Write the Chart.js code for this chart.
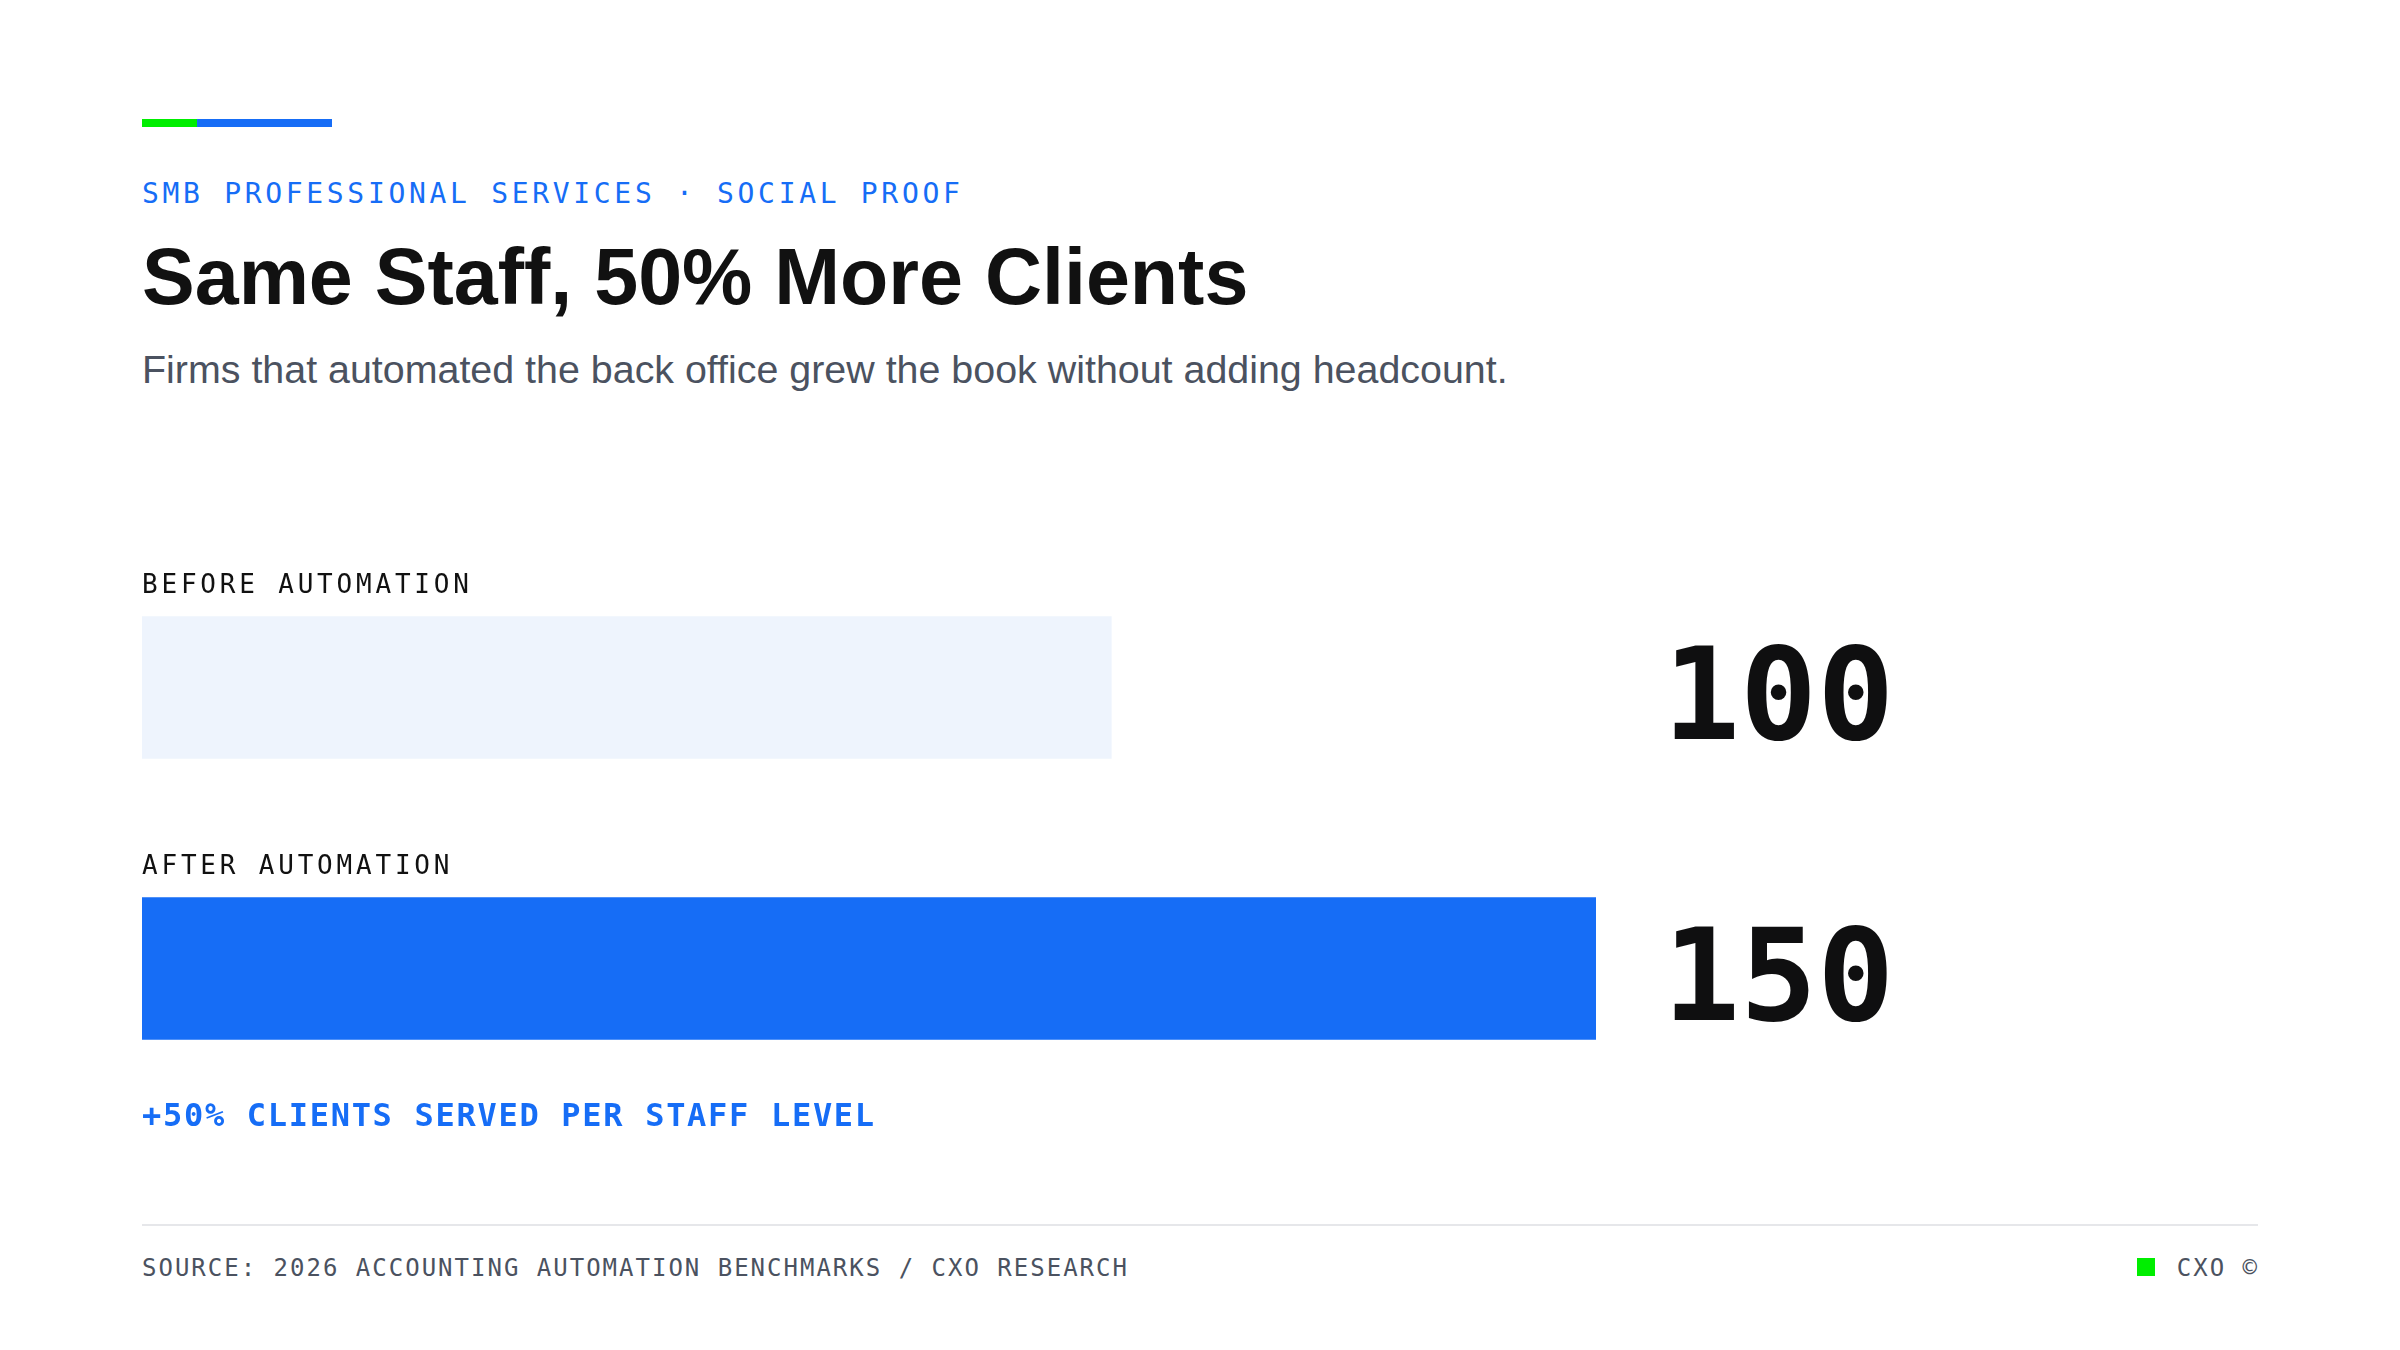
<!DOCTYPE html>
<html>
<head>
<meta charset="utf-8">
<script src="https://cdn.jsdelivr.net/npm/chart.js@4"></script>
<style>
  html, body { margin: 0; padding: 0; background: #ffffff; }
  body { width: 2400px; height: 1350px; position: relative; overflow: hidden; }
  .abs { position: absolute; white-space: nowrap; line-height: 1; }
  .mono { font-family: "DejaVu Sans Mono", monospace; }
  .sans { font-family: "Liberation Sans", Arial, sans-serif; }
  #accent-g { left: 142px; top: 119px; width: 55px; height: 8px; background: #00ee00; }
  #accent-b { left: 197px; top: 119px; width: 135px; height: 8px; background: #166DF6; }
  #eyebrow { left: 142px; top: 180px; font-size: 28px; letter-spacing: 3.68px; color: #166DF6; }
  #title { left: 142px; top: 237px; font-size: 79px; font-weight: 700; color: #111111; }
  #subtitle { left: 142px; top: 350px; font-size: 39.4px; color: #4b5260; }
  #note { left: 142px; top: 1099px; font-size: 32px; font-weight: 700; letter-spacing: 1.7px; color: #166DF6; }
  #rule { left: 142px; top: 1224px; width: 2116px; height: 2px; background: #e6e7ea; }
  #source { left: 142px; top: 1256px; font-size: 24px; letter-spacing: 2px; color: #4b5260; }
  #brand { right: 141px; top: 1256px; font-size: 24px; letter-spacing: 2px; color: #4b5260; }
  #brand-sq { left: 2137px; top: 1258px; width: 18px; height: 18px; background: #00ee00; }
  #chart-wrap { left: 142px; top: 540px; width: 2116px; height: 600px; }
</style>
</head>
<body>
<div class="abs" id="accent-g"></div>
<div class="abs" id="accent-b"></div>
<div class="abs mono" id="eyebrow">SMB PROFESSIONAL SERVICES · SOCIAL PROOF</div>
<div class="abs sans" id="title">Same Staff, 50% More Clients</div>
<div class="abs sans" id="subtitle">Firms that automated the back office grew the book without adding headcount.</div>
<div class="abs" id="chart-wrap"><canvas id="c" width="2116" height="600"></canvas></div>
<div class="abs mono" id="note">+50% CLIENTS SERVED PER STAFF LEVEL</div>
<div class="abs" id="rule"></div>
<div class="abs mono" id="source">SOURCE: 2026 ACCOUNTING AUTOMATION BENCHMARKS / CXO RESEARCH</div>
<div class="abs" id="brand-sq"></div>
<div class="abs mono" id="brand">CXO ©</div>
<script>
// ---- data ----
const categories = ['BEFORE AUTOMATION', 'AFTER AUTOMATION'];
const clientsServed = [100, 150];
const valueLabels = ['100', '150'];
const barColors = ['#EEF4FD', '#166DF6'];
const axisMax = 150;

function drawSpaced(ctx, text, x, y, spacing) {
  let cx = x;
  for (const ch of text) {
    ctx.fillText(ch, cx, y);
    cx += ctx.measureText(ch).width + spacing;
  }
}

const labelPlugin = {
  id: 'rowLabels',
  afterDatasetsDraw(chart) {
    const ctx = chart.ctx;
    const meta = chart.getDatasetMeta(0);
    const area = chart.chartArea;
    ctx.save();
    ctx.textBaseline = 'alphabetic';
    ctx.textAlign = 'left';
    meta.data.forEach((bar, i) => {
      const h = bar.height;
      // category label above bar
      ctx.fillStyle = '#111111';
      ctx.font = '26px "DejaVu Sans Mono"';
      drawSpaced(ctx, categories[i], area.left, bar.y - h / 2 - 24, 3.8);
      // value to the right of the track
      ctx.fillStyle = '#0f0f10';
      ctx.font = 'bold 128px "DejaVu Sans Mono"';
      ctx.fillText(valueLabels[i], area.right + 67, bar.y + 51);
    });
    ctx.restore();
  }
};

new Chart(document.getElementById('c'), {
  type: 'bar',
  data: {
    labels: categories,
    datasets: [{
      data: clientsServed,
      backgroundColor: barColors,
      borderWidth: 0,
      barThickness: 142
    }]
  },
  options: {
    indexAxis: 'y',
    responsive: false,
    animation: false,
    devicePixelRatio: 1,
    layout: { padding: { left: 0, right: 662, top: 7, bottom: 31 } },
    plugins: { legend: { display: false }, tooltip: { enabled: false } },
    scales: {
      x: { display: false, min: 0, max: axisMax, grid: { display: false } },
      y: { display: false, grid: { display: false } }
    }
  },
  plugins: [labelPlugin]
});
</script>
</body>
</html>
